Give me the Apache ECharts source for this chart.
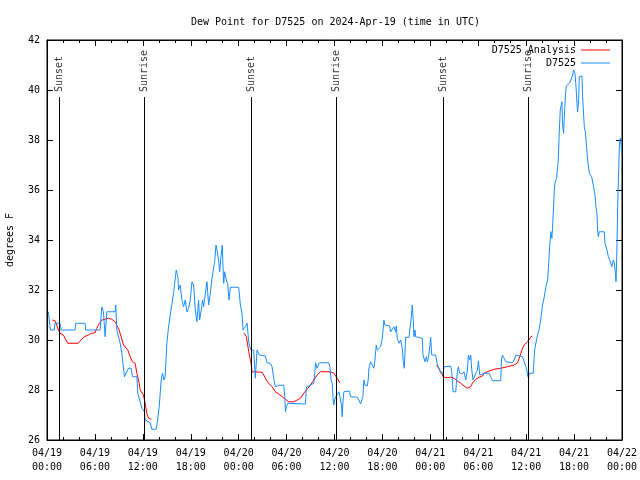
<!DOCTYPE html>
<html>
<head>
<meta charset="utf-8">
<script src="https://cdn.jsdelivr.net/npm/echarts@6/dist/echarts.min.js"></script>
<style>html,body{margin:0;padding:0;background:#fff}#c{width:640px;height:480px}</style>
</head>
<body>
<div id="c"></div>
<script>
// hours since 04/19 00:00 UTC, dew point (F)
const dewPoint = [
[0.17,31.13],[0.42,30.4],[0.92,30.4],[1.00,30.67],[1.63,30.67],[1.76,30.4],[3.51,30.4],[3.60,30.67],[4.77,30.67],[4.85,30.4],
[6.65,30.4],[6.86,31.33],[7.07,31.13],[7.28,30.13],[7.49,31.13],[8.53,31.13],[8.61,31.4],[8.74,30.4],[9.16,29.87],[9.37,29.47],
[9.70,28.53],[10.20,28.87],[10.54,28.87],[10.70,28.53],[11.25,28.53],[11.37,27.87],[11.88,27.27],[12.21,27.13],[12.29,26.8],[12.92,26.69],
[13.13,26.43],[13.67,26.43],[13.80,26.67],[14.05,27.33],[14.30,28.4],[14.47,28.67],[14.64,28.4],[14.80,28.53],[15.01,29.87],[15.22,30.53],
[15.43,31.0],[15.64,30.93],[15.85,31.87],[16.06,32.47],[16.18,32.8],[16.39,32.53],[16.47,32.0],[16.68,32.2],[16.89,31.6],[17.10,31.33],
[17.31,31.6],[17.52,31.13],[17.73,31.27],[17.94,31.6],[18.15,32.33],[18.36,32.2],[18.57,31.2],[18.77,30.73],[18.98,31.6],[19.11,30.8],
[19.32,31.2],[19.48,31.6],[19.61,31.33],[19.82,31.33],[20.03,32.33],[20.24,31.4],[20.45,31.87],[20.66,32.47],[20.86,32.53],[20.99,33.13],
[21.16,33.8],[21.28,33.6],[21.49,33.2],[21.62,32.73],[21.79,33.33],[21.95,33.8],[22.04,32.93],[22.12,32.27],[22.24,32.73],[22.45,32.4],
[22.62,32.27],[22.79,31.6],[22.96,32.11],[24.00,32.11],[24.21,31.4],[24.42,31.07],[24.55,30.4],[24.71,30.4],[24.84,30.53],[25.05,30.67],
[25.13,30.4],[25.26,29.93],[25.38,29.73],[25.55,29.6],[25.67,29.67],[25.88,29.6],[26.09,28.47],[26.30,29.6],[26.43,29.67],[26.59,29.4],
[27.35,29.36],[27.55,29.09],[27.97,29.07],[28.18,28.93],[28.39,28.47],[28.60,28.13],[29.02,28.19],[29.65,28.19],[29.77,27.73],[29.86,27.13],
[29.98,27.33],[30.15,27.47],[32.36,27.44],[32.49,28.13],[32.78,28.16],[33.41,28.27],[33.53,28.67],[33.62,29.09],[33.83,28.87],[34.04,29.07],
[34.24,29.0],[34.45,29.09],[35.29,29.09],[35.42,28.93],[35.58,28.4],[35.71,28.27],[35.83,27.6],[35.92,27.4],[36.00,27.6],[36.17,27.73],
[36.42,27.76],[36.55,27.93],[36.75,27.93],[36.88,27.4],[36.96,26.93],[37.05,27.47],[37.17,27.93],[37.88,27.96],[38.01,27.73],[38.84,27.71],
[39.05,27.6],[39.26,27.44],[39.47,27.47],[39.56,27.73],[39.68,28.4],[39.81,28.2],[40.10,28.16],[40.22,28.4],[40.31,28.87],[40.52,29.13],
[40.73,29.07],[40.93,28.87],[41.06,29.2],[41.23,29.8],[41.35,29.6],[41.56,29.53],[41.77,29.73],[41.98,30.07],[42.19,30.8],[42.31,30.6],
[42.40,30.56],[42.90,30.56],[43.03,30.33],[43.23,30.27],[43.44,30.53],[43.65,30.33],[43.74,30.56],[43.86,30.07],[44.07,29.87],[44.28,30.0],
[44.49,29.67],[44.61,29.13],[44.74,28.87],[44.82,29.47],[44.91,30.11],[45.33,30.11],[45.53,30.67],[45.66,31.07],[45.74,31.4],[45.87,30.73],
[45.95,30.13],[46.08,30.4],[46.16,30.13],[47.00,30.07],[47.08,29.4],[47.33,29.13],[47.50,29.33],[47.63,29.13],[47.75,29.27],[47.96,29.8],
[48.04,30.11],[48.17,29.4],[48.67,29.4],[48.88,29.0],[49.09,28.87],[49.30,28.67],[49.59,28.67],[49.71,28.93],[50.55,28.96],[50.68,28.73],
[50.76,28.4],[50.85,27.93],[51.18,27.93],[51.26,28.27],[51.39,28.73],[51.51,28.93],[51.68,28.67],[52.01,28.64],[52.22,28.73],[52.43,28.4],
[52.64,28.8],[52.77,29.4],[52.94,29.2],[53.06,29.4],[53.19,28.8],[53.35,28.4],[53.69,28.67],[53.90,28.8],[54.02,29.17],[54.19,28.6],
[54.44,28.6],[54.73,28.67],[55.36,28.67],[55.57,28.53],[55.78,28.37],[56.82,28.37],[56.91,29.2],[57.03,29.4],[57.24,29.33],[57.45,29.13],
[57.66,29.07],[58.29,29.09],[58.50,29.2],[58.71,29.4],[59.13,29.36],[59.34,29.4],[59.54,29.33],[59.75,29.13],[59.96,28.93],[60.09,28.8],
[60.17,28.6],[60.30,28.47],[60.38,28.67],[60.88,28.67],[61.01,29.33],[61.09,29.67],[61.30,29.71],[61.42,30.2],[61.63,30.43],[61.76,30.67],
[61.93,31.07],[62.05,31.4],[62.26,31.71],[62.47,32.13],[62.68,32.4],[62.80,32.93],[62.97,33.87],[63.10,34.33],[63.22,34.07],[63.31,34.53],
[63.43,35.33],[63.51,35.93],[63.60,36.27],[63.81,36.47],[64.02,37.2],[64.14,38.27],[64.27,39.2],[64.35,39.33],[64.48,39.53],[64.56,38.6],
[64.69,38.27],[64.77,38.87],[64.90,39.73],[65.02,40.16],[65.19,40.2],[65.40,40.27],[65.61,40.4],[65.82,40.6],[65.94,40.8],[66.11,40.67],
[66.23,40.2],[66.36,39.47],[66.44,39.13],[66.57,39.6],[66.65,40.53],[66.99,40.56],[67.07,39.73],[67.28,38.53],[67.41,38.33],[67.53,37.87],
[67.70,37.2],[67.91,36.67],[68.20,36.53],[68.32,36.51],[68.45,36.13],[68.62,35.8],[68.74,35.33],[68.87,35.04],[68.95,34.4],[69.03,34.13],
[69.16,34.33],[69.78,34.33],[69.87,33.87],[70.12,33.6],[70.29,33.33],[70.54,33.13],[70.71,32.93],[70.92,33.2],[71.04,33.07],[71.17,32.67],
[71.25,32.33],[71.34,33.33],[71.46,35.33],[71.59,36.87],[71.67,37.8],[71.80,38.07],[71.88,37.8],[71.97,37.47]
];
const analysisDay1 = [
[0.67,30.8],[1.00,30.77],[1.21,30.6],[1.42,30.4],[1.63,30.27],[2.05,30.2],[2.26,30.07],[2.59,29.87],[3.93,29.87],[4.26,30.0],
[4.68,30.13],[5.18,30.2],[5.60,30.27],[6.02,30.29],[6.23,30.47],[6.56,30.67],[6.86,30.8],[7.28,30.83],[7.69,30.87],[8.11,30.83],
[8.53,30.73],[8.74,30.67],[9.03,30.4],[9.28,30.13],[9.58,29.8],[9.78,29.73],[10.12,29.6],[10.41,29.33],[10.70,29.13],[11.04,29.07],
[11.25,28.67],[11.54,28.27],[11.67,28.0],[11.88,27.93],[12.08,27.8],[12.29,27.47],[12.50,27.07],[12.71,26.87],[13.05,26.83]
];
const analysisDay2 = [
[24.71,30.27],[24.96,30.13],[25.13,29.8],[25.26,29.53],[25.38,29.33],[25.55,29.07],[25.67,28.73],[26.93,28.71],[27.14,28.6],[27.47,28.4],
[27.76,28.27],[28.18,28.13],[28.60,27.93],[29.02,27.84],[29.44,27.73],[29.86,27.63],[30.27,27.53],[30.90,27.53],[31.32,27.6],[31.74,27.67],
[32.15,27.87],[32.57,28.03],[32.99,28.2],[33.41,28.4],[33.83,28.6],[34.24,28.73],[35.50,28.73],[35.92,28.67],[36.34,28.47],[36.67,28.29]
];
const analysisDay3 = [
[48.80,29.0],[49.01,28.93],[49.17,28.8],[49.42,28.67],[49.59,28.53],[49.92,28.49],[50.55,28.51],[50.97,28.47],[51.18,28.4],[51.51,28.33],
[51.81,28.27],[52.22,28.16],[52.64,28.07],[52.85,28.07],[53.06,28.13],[53.27,28.27],[53.48,28.33],[53.69,28.43],[53.90,28.47],[54.11,28.51],
[54.52,28.56],[54.73,28.67],[55.36,28.76],[55.99,28.83],[56.82,28.87],[57.66,28.93],[58.50,29.0],[58.92,29.09],[59.13,29.27],[59.34,29.47],
[59.54,29.67],[59.75,29.8],[60.17,29.93],[60.38,30.0],[60.59,30.13],[60.80,30.16]
];
const sunHours = [1.55, 12.21, 25.63, 36.27, 49.59, 60.29];
const sunNames = ['Sunset', 'Sunrise', 'Sunset', 'Sunrise', 'Sunset', 'Sunrise'];
const dayLabels = ['04/19', '04/20', '04/21', '04/22'];
const yTicks = {min: 26, max: 42, step: 2};

const FONT = 'DejaVu Sans Mono';
const BLUE = '#1a8cff';
const RED = '#ff0000';
const txt = {fontFamily: FONT, fontSize: 10, color: '#000'};

function xLabel(v) {
  const d = dayLabels[Math.floor(v / 24)];
  const hh = v % 24;
  return d + '\n' + (hh < 10 ? '0' : '') + hh + ':00';
}

function xAxisCfg(pos, labels) {
  return {
    type: 'value', position: pos, min: 0, max: 72, interval: 6,
    axisLine: {show: true, onZero: false, lineStyle: {color: '#000', width: 1}},
    axisTick: {show: true, inside: true, length: 6, lineStyle: {color: '#000'}},
    minorTick: {show: true, splitNumber: 3, length: 3, lineStyle: {color: '#000'}},
    splitLine: {show: false}, minorSplitLine: {show: false},
    axisLabel: labels ? Object.assign({show: true, margin: 6, lineHeight: 14, formatter: xLabel}, txt) : {show: false}
  };
}
function yAxisCfg(pos, labels) {
  const c = {
    type: 'value', position: pos, min: yTicks.min, max: yTicks.max, interval: yTicks.step,
    axisLine: {show: true, onZero: false, lineStyle: {color: '#000', width: 1}},
    axisTick: {show: true, inside: true, length: 6, lineStyle: {color: '#000'}},
    splitLine: {show: false},
    axisLabel: labels ? Object.assign({show: true, margin: 7}, txt) : {show: false}
  };
  if (labels) {
    c.name = 'degrees F'; c.nameLocation = 'middle'; c.nameGap = 32; c.nameRotate = 90;
    c.nameTextStyle = Object.assign({}, txt);
  }
  return c;
}

const lineBase = {type: 'line', showSymbol: false, symbol: 'none', animation: false, xAxisIndex: 0, yAxisIndex: 0};

const option = {
  animation: false,
  backgroundColor: '#fff',
  title: {text: 'Dew Point for D7525 on 2024-Apr-19 (time in UTC)', left: 186, top: 12,
    textStyle: Object.assign({fontWeight: 'normal'}, txt)},
  grid: {left: 47, right: 18, top: 40, bottom: 40, show: true, borderColor: '#000', borderWidth: 1,
    backgroundColor: 'transparent', containLabel: false, outerBoundsMode: 'none'},
  legend: [
    {data: ['D7525 Analysis'], right: 30, top: 45, padding: 0, icon: 'rect', itemWidth: 29, itemHeight: 1, align: 'right',
      selectedMode: false, textStyle: Object.assign({}, txt)},
    {data: ['D7525'], right: 30, top: 58, padding: 0, icon: 'rect', itemWidth: 29, itemHeight: 1, align: 'right',
      selectedMode: false, textStyle: Object.assign({}, txt)}
  ],
  xAxis: [xAxisCfg('bottom', true), xAxisCfg('top', false)],
  yAxis: [yAxisCfg('left', true), yAxisCfg('right', false)],
  series: [
    Object.assign({}, lineBase, {name: 'D7525 Analysis', data: analysisDay1, z: 2, lineStyle: {color: RED, width: 1}, itemStyle: {color: RED}}),
    Object.assign({}, lineBase, {name: 'D7525 Analysis', data: analysisDay2, z: 2, lineStyle: {color: RED, width: 1}, itemStyle: {color: RED}}),
    Object.assign({}, lineBase, {name: 'D7525 Analysis', data: analysisDay3, z: 2, lineStyle: {color: RED, width: 1}, itemStyle: {color: RED}}),
    Object.assign({}, lineBase, {name: 'D7525', data: dewPoint, z: 3, lineStyle: {color: BLUE, width: 1}, itemStyle: {color: BLUE}}),
    {
      type: 'scatter', name: 'sun', z: 10, symbolSize: 0, silent: true, animation: false,
      data: sunHours.map((h, i) => ({value: [h, 39.92], name: sunNames[i]})),
      label: Object.assign({show: true, position: 'inside', rotate: 90, align: 'left', verticalAlign: 'middle',
        formatter: p => p.name}, txt),
      markLine: {
        silent: true, symbol: ['none', 'none'], animation: false,
        label: {show: false},
        lineStyle: {color: '#000', width: 1, type: 'solid'},
        emphasis: {disabled: true},
        data: sunHours.map(h => [{coord: [h, 26]}, {coord: [h, 39.72]}])
      }
    }
  ]
};
const chart = echarts.init(document.getElementById('c'), null, {renderer: 'canvas'});
chart.setOption(option);
</script>
</body>
</html>
